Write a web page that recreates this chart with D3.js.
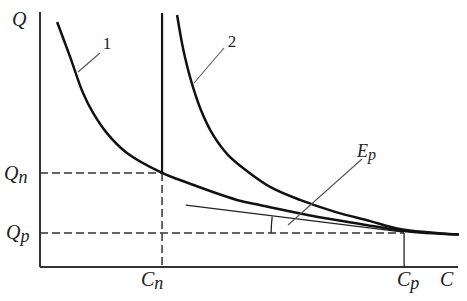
<!DOCTYPE html>
<html>
    <head>
        <meta charset="utf-8">
        <title>Q - C curves</title>
        <script src="https://cdn.jsdelivr.net/npm/d3@7"></script>
        <style>
            body { margin: 0; background: #fff; }
            text { font-family: "Liberation Serif", "DejaVu Serif", serif; fill: #222; }
        </style>
    </head>
    <body>
        <svg id="svg"></svg>

        <script>
            var WIDTH = 467;
            var HEIGHT = 301;

            // curve 1 (C, Q)
            var curve1C = [4.1, 7.2, 10.3, 12.7, 16, 20.8, 29.2, 33.5, 47.1, 52.6, 65.3, 76.6, 87.1, 100.2];
            var curve1Q = [96.1, 82.4, 68.2, 60.4, 52.5, 44.7, 36.9, 34.1, 26.3, 24.3, 20, 16.9, 14.1, 12.7];

            // curve 2 (C, Q)
            var curve2C = [32.8, 34.2, 36.1, 38.5, 41.4, 45, 49.8, 55.5, 62.2, 70.6, 79, 86.1, 100.2];
            var curve2Q = [98.8, 85.9, 73.3, 61.6, 51.8, 43.9, 37.3, 31, 26.3, 21.6, 18, 14.9, 12.7];

            // tangent line at Cp
            var tangentC = [34.9, 87];
            var tangentQ = [24.3, 13.7];

            var Cn = 29.2, Cp = 87.1;
            var Qn = 36.9, Qp = 13.3;
            var QTOP = 99.6;

            var svg = d3.select('#svg')
                        .attr('width', WIDTH)
                        .attr('height', HEIGHT);

            var x = d3.scaleLinear().domain([0, 100]).range([40, 458]);
            var y = d3.scaleLinear().domain([0, 100]).range([267, 12]);

            var zip = function(cs, qs){
                return cs.map(function(c, i){ return [c, qs[i]]; });
            }

            var line = d3.line()
                         .x(function(d){ return x(d[0]); })
                         .y(function(d){ return y(d[1]); })
                         .curve(d3.curveCatmullRom.alpha(0.5));

            // axes
            svg.append('line')
               .attr('x1', x(0)).attr('y1', y(0))
               .attr('x2', x(0)).attr('y2', y(100))
               .attr('stroke', '#333').attr('stroke-width', 2);
            svg.append('line')
               .attr('x1', x(0)).attr('y1', y(0))
               .attr('x2', x(100)).attr('y2', y(0))
               .attr('stroke', '#333').attr('stroke-width', 2);

            // dashed guides
            var dashed = [
                [[0, Qn], [Cn, Qn]],
                [[Cn, Qn], [Cn, 0]],
                [[0, Qp], [Cp, Qp]]
            ];
            svg.selectAll('line.dash')
               .data(dashed)
               .enter()
               .append('line')
               .attr('class', 'dash')
               .attr('x1', function(d){ return x(d[0][0]); })
               .attr('y1', function(d){ return y(d[0][1]); })
               .attr('x2', function(d){ return x(d[1][0]); })
               .attr('y2', function(d){ return y(d[1][1]); })
               .attr('stroke', '#333')
               .attr('stroke-width', 1.5)
               .attr('stroke-dasharray', '8,4');

            // solid vertical at Cn and at Cp
            svg.append('line')
               .attr('x1', x(Cn)).attr('y1', y(QTOP))
               .attr('x2', x(Cn)).attr('y2', y(Qn))
               .attr('stroke', '#111').attr('stroke-width', 2.2);
            svg.append('line')
               .attr('x1', x(Cp)).attr('y1', y(Qp))
               .attr('x2', x(Cp)).attr('y2', y(0))
               .attr('stroke', '#222').attr('stroke-width', 1.3);

            // tangent
            svg.append('path')
               .datum(zip(tangentC, tangentQ))
               .attr('d', d3.line().x(function(d){ return x(d[0]); }).y(function(d){ return y(d[1]); }))
               .attr('fill', 'none')
               .attr('stroke', '#222')
               .attr('stroke-width', 1.3);

            // angle arc between tangent and Qp line
            var cx = x(Cp), cy = y(Qp);
            var r = cx - x(55.3);
            var theta = Math.atan(Math.abs(y(tangentQ[0]) - y(tangentQ[1])) / (x(tangentC[1]) - x(tangentC[0])));
            var p = d3.path();
            p.arc(cx, cy, r, Math.PI, Math.PI + theta, false);
            svg.append('path')
               .attr('d', p.toString())
               .attr('fill', 'none')
               .attr('stroke', '#222')
               .attr('stroke-width', 1.3);

            // curves
            svg.selectAll('path.curve')
               .data([zip(curve1C, curve1Q), zip(curve2C, curve2Q)])
               .enter()
               .append('path')
               .attr('class', 'curve')
               .attr('d', line)
               .attr('fill', 'none')
               .attr('stroke', '#111')
               .attr('stroke-width', 2.5);

            // leader lines
            var leaders = [
                [[100, 53], [78, 72]],
                [[224, 48], [194, 83]],
                [[362, 159], [288, 225]]
            ];
            svg.selectAll('line.leader')
               .data(leaders)
               .enter()
               .append('line')
               .attr('class', 'leader')
               .attr('x1', function(d){ return d[0][0]; })
               .attr('y1', function(d){ return d[0][1]; })
               .attr('x2', function(d){ return d[1][0]; })
               .attr('y2', function(d){ return d[1][1]; })
               .attr('stroke', '#555')
               .attr('stroke-width', 1.1);

            // labels
            var label = function(tx, ty, main, sub, size){
                var t = svg.append('text')
                           .attr('x', tx).attr('y', ty)
                           .attr('font-size', size + 'px')
                           .attr('font-style', 'italic');
                t.append('tspan').text(main);
                if(sub){
                    t.append('tspan')
                     .attr('dy', 3)
                     .attr('font-size', (size - 2) + 'px')
                     .text(sub);
                }
                return t;
            }
            label(12, 26, 'Q', null, 20);
            label(4, 180, 'Q', 'n', 20);
            label(6, 239, 'Q', 'p', 20);
            label(141, 286, 'C', 'n', 20);
            label(397, 286, 'C', 'p', 20);
            label(440, 286, 'C', null, 20);
            label(357, 157, 'E', 'p', 18);

            svg.append('text')
               .attr('x', 107).attr('y', 49)
               .attr('text-anchor', 'middle')
               .attr('font-size', '17px')
               .text('1');
            svg.append('text')
               .attr('x', 232).attr('y', 47)
               .attr('text-anchor', 'middle')
               .attr('font-size', '17px')
               .text('2');
        </script>
    </body>
</html>
